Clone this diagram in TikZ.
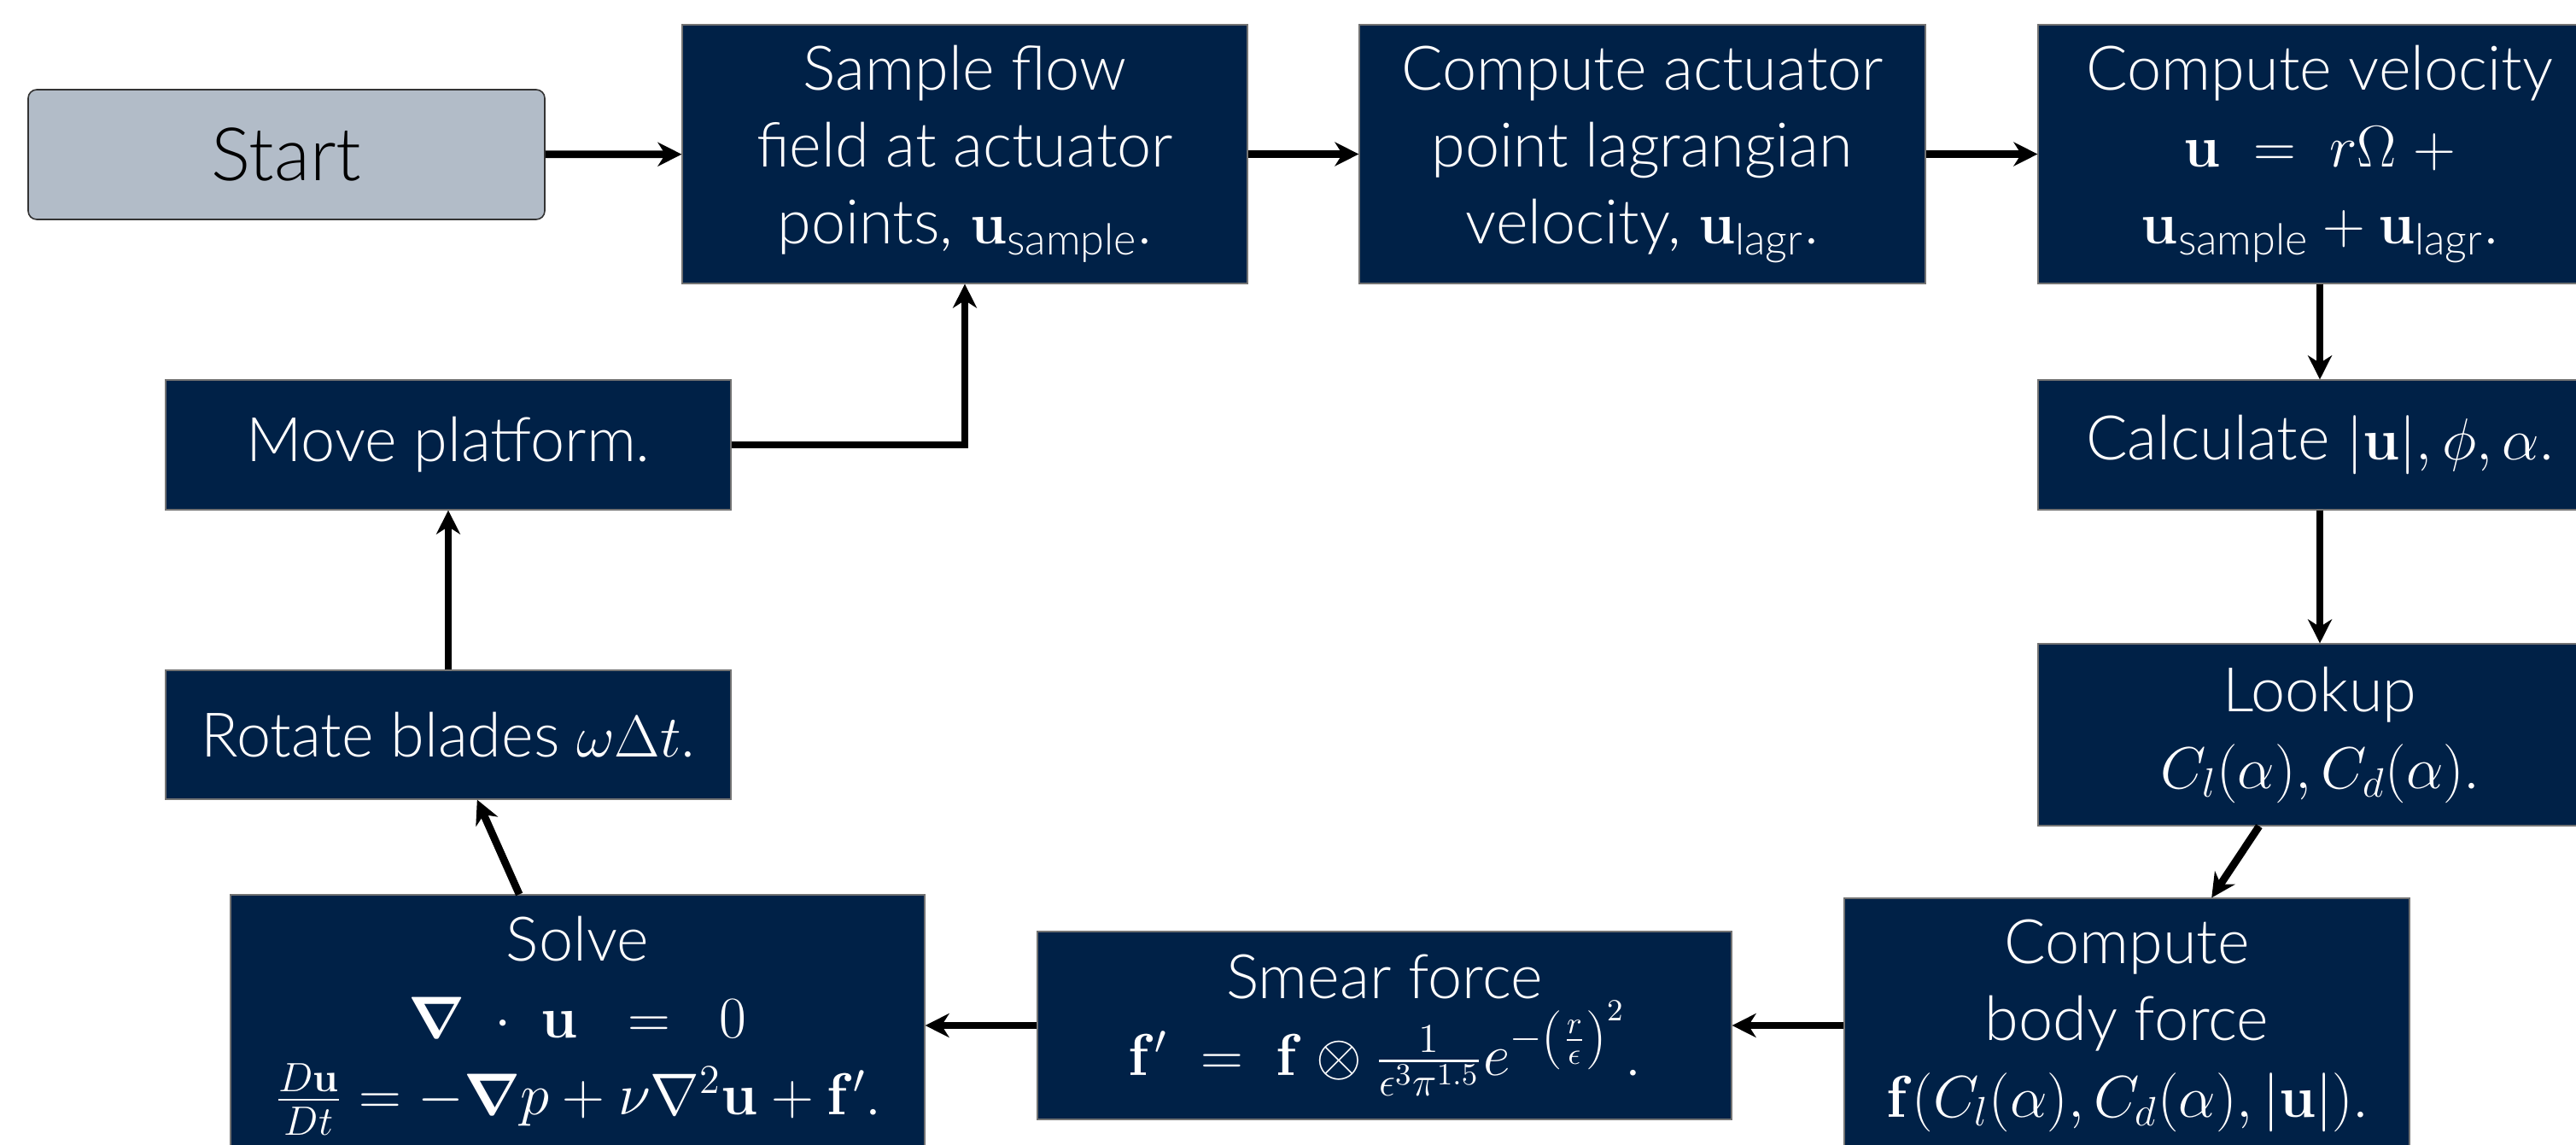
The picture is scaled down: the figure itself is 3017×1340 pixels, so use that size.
\documentclass[tikz,border=0pt]{standalone}
\usepackage{amsmath,amssymb}
\usepackage[no-math]{fontspec}
\setmainfont{Lato Light}
\usetikzlibrary{arrows.meta}
\definecolor{oxblue}{RGB}{0,33,71}
\tikzset{
  box/.style={rectangle, fill=oxblue, draw=black!55, line width=0.3pt, text=white,
    align=center, inner sep=0pt, font=\fontsize{18}{22.5}\selectfont},
  startbox/.style={rectangle, rounded corners=2.5pt, fill=oxblue!30, draw=black!80,
    line width=0.4pt, text=black, align=center, inner sep=0pt, font=\fontsize{21.6}{26}\selectfont},
  conn/.style={line width=2.2pt, -{Stealth[length=7pt,width=7pt,inset=2.2pt]}},
}
\begin{document}
\begin{tikzpicture}[x=0.25pt,y=-0.25pt]
\useasboundingbox (0,0) rectangle (3017,1340);
\begin{scope}
\clip (0,0) rectangle (3017,1340);
\node[startbox, minimum width=151.25pt, minimum height=38pt] (start) at (335.5,181) {Start};
\node[box, minimum width=165.5pt, minimum height=75.75pt] (sample) at (1130,180.5)
  {Sample flow\\ field at actuator\\ points, $\mathbf{u}_{\text{sample}}$.};
\node[box, minimum width=165.75pt, minimum height=75.75pt] (actuator) at (1923.5,180.5)
  {Compute actuator\\ point lagrangian\\ velocity, $\mathbf{u}_{\text{lagr}}$.};
\node[box, minimum width=165pt, minimum height=75.75pt] (velocity) at (2717,180.5)
  {Compute velocity\\ $\mathbf{u}\ =\ r\Omega\ +$\\ $\mathbf{u}_{\text{sample}}+\mathbf{u}_{\text{lagr}}$.};
\node[box, minimum width=165pt, minimum height=38pt] (calc) at (2717,521)
  {Calculate $|\mathbf{u}|, \phi, \alpha$.};
\node[box, minimum width=165pt, minimum height=53.25pt] (lookup) at (2717,860.5)
  {Lookup\\ $C_l(\alpha), C_d(\alpha)$.};
\node[box, minimum width=165.5pt, minimum height=74.5pt] (body) at (2491,1201)
  {Compute\\ body force\\ $\mathbf{f}(C_l(\alpha), C_d(\alpha), |\mathbf{u}|)$.};
\node[box, minimum width=203.25pt, minimum height=55pt] (smear) at (1621.5,1201)
  {Smear force\\ $\mathbf{f}'\ =\ \mathbf{f}\otimes\frac{1}{\epsilon^3\pi^{1.5}}e^{-\left(\frac{r}{\epsilon}\right)^2}$.};
\node[box, minimum width=203.25pt, minimum height=76.5pt] (solve) at (676.5,1201)
  {Solve\\ $\boldsymbol{\nabla}\ \cdot\ \mathbf{u}\ \ =\ \ 0$\\ $\frac{D\mathbf{u}}{Dt} = -\boldsymbol{\nabla} p + \nu\nabla^2\mathbf{u}+\mathbf{f}'$.};
\node[box, minimum width=165.5pt, minimum height=37.75pt] (rotate) at (525,860.5)
  {Rotate blades $\omega\Delta t$.};
\node[box, minimum width=165.5pt, minimum height=38pt] (move) at (525,521)
  {Move platform.};
\draw[conn] (start) -- (sample);
\draw[conn] (sample) -- (actuator);
\draw[conn] (actuator) -- (velocity);
\draw[conn] (velocity) -- (calc);
\draw[conn] (calc) -- (lookup);
\draw[conn] (lookup) -- (body);
\draw[conn] (body) -- (smear);
\draw[conn] (smear) -- (solve);
\draw[conn] (solve) -- (rotate);
\draw[conn] (rotate) -- (move);
\draw[conn] (move.east) -| (sample.south);
\end{scope}
\end{tikzpicture}
\end{document}
